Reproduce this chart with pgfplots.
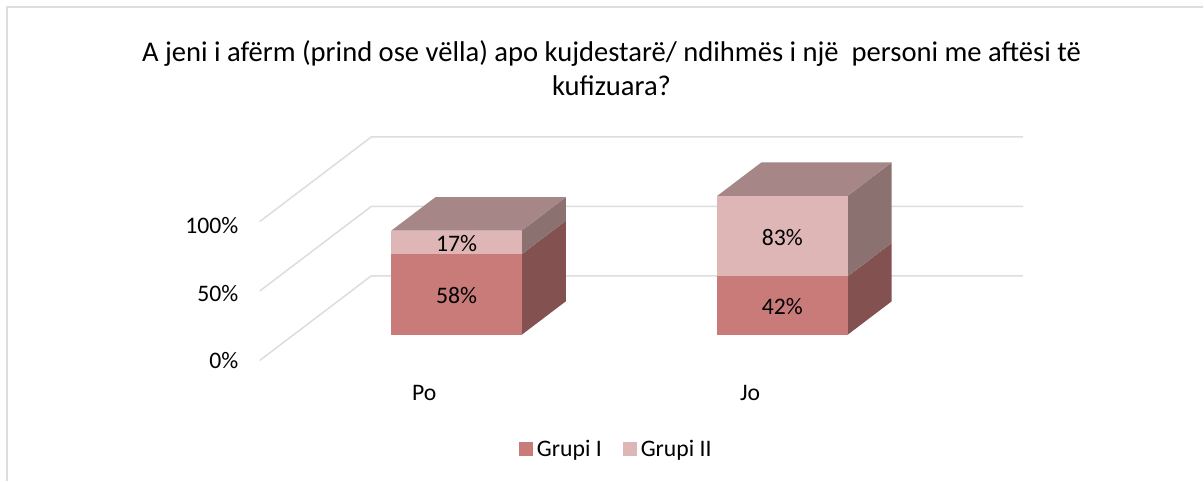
\documentclass[border=0pt]{standalone}
\usepackage{pgfplots}
\pgfplotsset{compat=1.18}
\usepackage{fontspec}
\setmainfont{Carlito}
\definecolor{frontA}{HTML}{C97B7A}
\definecolor{frontB}{HTML}{DDB6B5}
\definecolor{sideA}{HTML}{825150}
\definecolor{sideB}{HTML}{8B7271}
\definecolor{topB}{HTML}{A68686}
\definecolor{gridc}{HTML}{DDDDDD}
\newcommand{\fs}{\fontsize{23.7}{28}\selectfont}
\pgfplotsset{
 face/.style={forget plot,draw=none,fill=#1,no marks},
 wall/.style={forget plot,draw=gridc,line width=1.5pt,no marks,fill=none}
}
\begin{document}
\begin{tikzpicture}[x=1pt,y=1pt]
\path[fill=white] (0,0) rectangle (1204,481);
\draw[gridc,line width=2pt] (7,0) -- (7,473.5) -- (1204,473.5);
\node[align=center,font=\fontsize{28.6}{34}\selectfont] at (612,413)
  {A jeni i afërm (prind ose vëlla) apo kujdestarë/ ndihmës i një\ \ personi me aftësi të\\kufizuara?};
\begin{axis}[
  at={(260pt,120.3pt)},anchor=south west,
  x={(326.15pt,0pt)},y={(111.7pt,84.7pt)},z={(0pt,1.39pt)},
  xmin=-0.5,xmax=1.5,ymin=0,ymax=1,zmin=0,zmax=100,
  clip=false,
  axis line style={draw=none},
  tick style={draw=none},
  xtick={0,1},xticklabels={Po,Jo},
  ytick=\empty,
  ztick={0,50,100},
  zticklabel={\pgfmathprintnumber{\tick}\%},
  /pgf/number format/assume math mode=true,
  ticklabel style={font=\fs},
  xticklabel pos=lower,
  zticklabel pos=left,
  x tick label style={yshift=-21pt,xshift=7pt},
  z tick label style={xshift=-18pt,yshift=6pt},
  legend columns=2,
  legend style={draw=none,fill=none,font=\fs,at={(0.467,-0.395)},anchor=center,
    /tikz/every even column/.append style={column sep=19pt}},
  legend image code/.code={\fill[#1] (0pt,-7pt) rectangle (14pt,7pt);\path (0pt,0pt) -- (16pt,0pt);},
]
\addlegendimage{fill=frontA,draw=none}
\addlegendimage{fill=frontB,draw=none}
% walls
\addplot3[wall] coordinates {(-0.5,0,0)(-0.5,1,0)(1.5,1,0)};
\addplot3[wall] coordinates {(-0.5,0,50)(-0.5,1,50)(1.5,1,50)};
\addplot3[wall] coordinates {(-0.5,0,100)(-0.5,1,100)(1.5,1,100)};
% Po
\addplot3[face=sideA] coordinates {(0.2,0.303,0)(0.2,0.698,0)(0.2,0.698,58)(0.2,0.303,58)};
\addplot3[face=sideB] coordinates {(0.2,0.303,58)(0.2,0.698,58)(0.2,0.698,75)(0.2,0.303,75)};
\addplot3[face=topB] coordinates {(-0.2,0.303,75)(0.2,0.303,75)(0.2,0.698,75)(-0.2,0.698,75)};
\addplot3[face=frontA] coordinates {(-0.2,0.303,0)(0.2,0.303,0)(0.2,0.303,58)(-0.2,0.303,58)};
\addplot3[face=frontB] coordinates {(-0.2,0.303,58)(0.2,0.303,58)(0.2,0.303,75)(-0.2,0.303,75)};
% Jo: 42 + 83 runs past the axis maximum, so it stops at 100
\addplot3[face=sideA] coordinates {(1.2,0.303,0)(1.2,0.698,0)(1.2,0.698,42)(1.2,0.303,42)};
\addplot3[face=sideB] coordinates {(1.2,0.303,42)(1.2,0.698,42)(1.2,0.698,100)(1.2,0.303,100)};
\addplot3[face=topB] coordinates {(0.8,0.303,100)(1.2,0.303,100)(1.2,0.698,100)(0.8,0.698,100)};
\addplot3[face=frontA] coordinates {(0.8,0.303,0)(1.2,0.303,0)(1.2,0.303,42)(0.8,0.303,42)};
\addplot3[face=frontB] coordinates {(0.8,0.303,42)(1.2,0.303,42)(1.2,0.303,100)(0.8,0.303,100)};
\node[font=\fs] at (axis cs:0,0.303,28) {58\%};
\node[font=\fs] at (axis cs:0,0.303,66) {17\%};
\node[font=\fs] at (axis cs:1,0.303,20) {42\%};
\node[font=\fs] at (axis cs:1,0.303,70) {83\%};
\legend{Grupi I,Grupi II}
\end{axis}
\path (0,0) rectangle (1204,481);
\end{tikzpicture}
\end{document}
